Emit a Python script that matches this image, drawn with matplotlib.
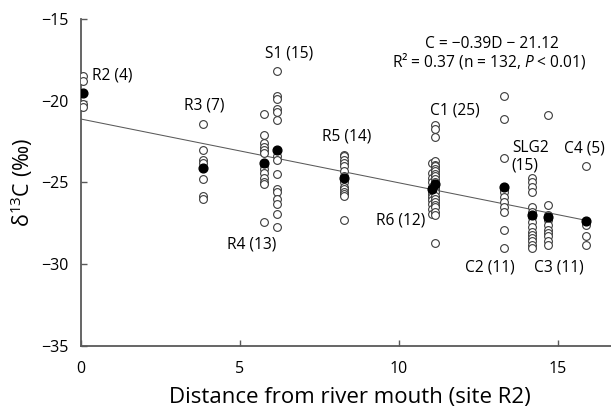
import matplotlib
matplotlib.use("Agg")
import matplotlib.pyplot as plt

plt.rcParams['font.family'] = ['Open Sans', 'DejaVu Sans']
plt.rcParams['mathtext.fontset'] = 'custom'
plt.rcParams['mathtext.rm'] = 'Open Sans'
plt.rcParams['mathtext.it'] = 'Open Sans:italic'

# Site distances (km from river mouth) and labels
sites = ["R2", "R3", "R4", "S1", "R5", "R6", "C1", "C2", "SLG2", "C3", "C4"]
site_x = [0.05, 3.83, 5.74, 6.17, 8.27, 11.05, 11.13, 13.30, 14.18, 14.68, 15.88]
site_n = [4, 7, 13, 15, 14, 12, 25, 11, 15, 11, 5]

# Individual δ13C values per site
vals_R2 = [-18.5, -18.8, -20.2, -20.4]
vals_R3 = [-21.4, -23.0, -23.6, -23.8, -24.8, -25.8, -26.0]
vals_R4 = [-20.8, -22.1, -22.6, -22.8, -23.0, -23.2, -23.9, -24.2, -24.4, -24.7, -25.0, -25.1, -27.4]
vals_S1 = [-18.2, -19.7, -19.9, -20.5, -20.7, -21.2, -23.4, -23.6, -24.5, -25.4, -25.6, -26.0, -26.3, -26.9, -27.7]
vals_R5 = [-23.3, -23.4, -23.6, -23.8, -24.0, -24.3, -24.6, -25.0, -25.3, -25.4, -25.6, -25.7, -25.8, -27.3]
vals_R6 = [-23.8, -24.4, -24.7, -25.0, -25.3, -25.5, -25.7, -25.9, -26.1, -26.3, -26.6, -26.9]
vals_C1 = [-21.5, -21.7, -22.2, -23.7, -23.9, -24.0, -24.2, -24.3, -24.5, -24.6, -24.8, -25.0, -25.1,
           -25.2, -25.3, -25.4, -25.6, -25.8, -26.0, -26.2, -26.4, -26.5, -26.8, -27.0, -28.7]
vals_C2 = [-19.7, -21.1, -23.5, -25.4, -25.6, -25.9, -26.2, -26.5, -26.8, -27.9, -29.0]
vals_SLG2 = [-24.7, -25.0, -25.3, -25.6, -26.5, -26.8, -27.1, -27.4, -27.7, -28.0, -28.2, -28.4, -28.6, -28.8, -29.0]
vals_C3 = [-20.9, -26.4, -27.0, -27.2, -27.3, -27.6, -27.9, -28.1, -28.3, -28.6, -28.8]
vals_C4 = [-24.0, -27.4, -27.6, -28.3, -28.8]

site_vals = [vals_R2, vals_R3, vals_R4, vals_S1, vals_R5, vals_R6, vals_C1, vals_C2, vals_SLG2, vals_C3, vals_C4]

# Site means (filled markers)
site_means = [-19.5, -24.1, -23.8, -23.0, -24.7, -25.4, -25.1, -25.3, -27.0, -27.1, -27.35]

# Regression
slope = -0.39
intercept = -21.12
line_x = [0.0, 15.88]

# Label positions (x, y, ha)
label_pos = {
    "R2": (0.35, -18.45, "left"),
    "R3": (3.87, -20.3, "center"),
    "S1": (6.54, -17.1, "center"),
    "R4": (5.38, -28.8, "center"),
    "R5": (8.36, -22.2, "center"),
    "C1": (11.76, -20.6, "center"),
    "R6": (10.06, -27.35, "center"),
    "C4": (15.82, -22.95, "center"),
    "C2": (12.86, -30.2, "center"),
    "C3": (15.03, -30.2, "center"),
}

fig = plt.figure(figsize=(6.11, 4.12), dpi=100)
ax = fig.add_axes([0.1326, 0.1602, 0.8674, 0.7937])

axis_col = "#595959"
fs = 11.2

for x, v in zip(site_x, site_vals):
    ax.plot([x] * len(v), v, linestyle="none", marker="o", markersize=5.6,
            markerfacecolor="white", markeredgecolor="#3a3a3a", markeredgewidth=0.8, zorder=3)

ax.plot(line_x, [slope * xx + intercept for xx in line_x], color="#5a5a5a", lw=0.75, zorder=2)

ax.plot(site_x, site_means, linestyle="none", marker="o", markersize=6.3,
        markerfacecolor="black", markeredgecolor="black", zorder=4)

for s, n in zip(sites, site_n):
    if s in label_pos:
        lx, ly, ha = label_pos[s]
        ax.text(lx, ly, f"{s} ({n})", ha=ha, va="center", fontsize=fs, color="black")

ax.text(13.55, -22.9, "SLG2", ha="left", va="center", fontsize=fs)
ax.text(13.55, -23.95, "(15)", ha="left", va="center", fontsize=fs)

ax.text(12.92, -16.5, "C = \u22120.39D \u2212 21.12", ha="center", va="center", fontsize=fs)
ax.text(12.83, -17.55, "R\u00b2 = 0.37 (n = 132, $\\mathit{P}$ < 0.01)", ha="center", va="center", fontsize=fs)

ax.set_xlim(0, 16.67)
ax.set_ylim(-35, -15)
ax.set_xticks([0, 5, 10, 15])
ax.set_yticks([-35, -30, -25, -20, -15])
ax.set_yticklabels(["\u221235", "\u221230", "\u221225", "\u221220", "\u221215"])

for sp in ["top", "right"]:
    ax.spines[sp].set_visible(False)
for sp in ["left", "bottom"]:
    ax.spines[sp].set_color(axis_col)
    ax.spines[sp].set_linewidth(1.3)

ax.tick_params(axis="both", direction="in", length=4, width=1.0, color=axis_col, labelsize=11.5)
ax.tick_params(axis="x", pad=11)
ax.tick_params(axis="y", pad=9)

ax.set_xlabel("Distance from river mouth (site R2)", fontsize=16)
ax.xaxis.set_label_coords(0.508, -0.125)
ax.set_ylabel("\u03b4$^{\\mathregular{13}}$C (\u2030)", fontsize=15.5)
ax.yaxis.set_label_coords(-0.087, 0.5)

fig.savefig("out.png", dpi=100)
